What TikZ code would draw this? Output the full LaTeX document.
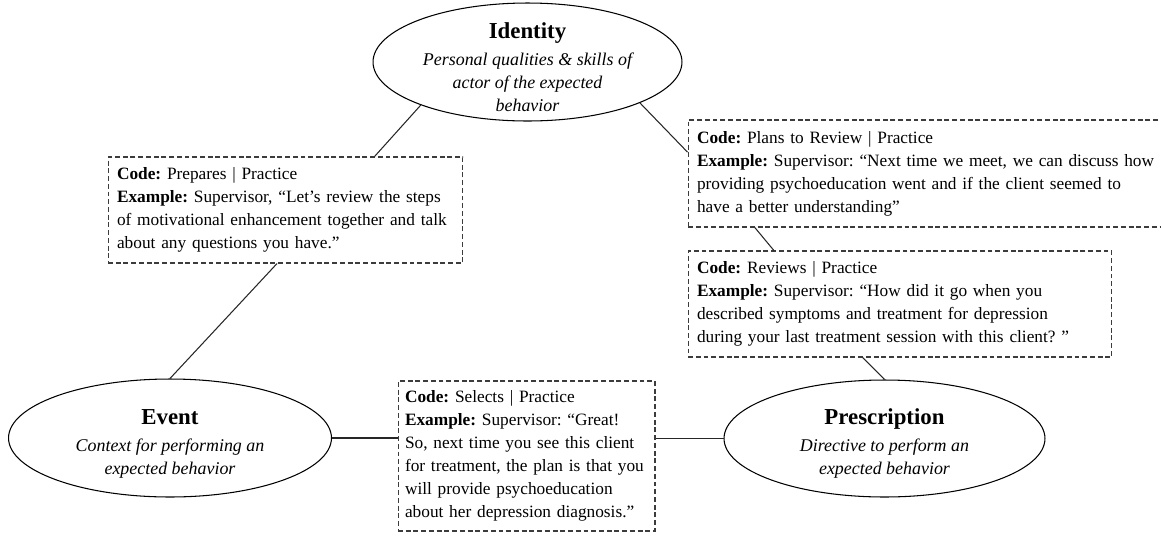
\documentclass[tikz,border=0pt]{standalone}
\usepackage{fontspec}
\setmainfont{Liberation Serif}
\usepackage{tikz}
\usetikzlibrary{shapes.geometric}
\definecolor{boxgray}{RGB}{60, 60, 60}
\frenchspacing

\tikzset{
  concept/.style={ellipse, draw, line width=0.6pt, inner xsep=0pt, inner ysep=-6pt,
    align=center, font=\fontsize{10.2}{13.2}\selectfont},
  codebox/.style={draw=boxgray, line width=0.6pt, dash pattern=on 2.8pt off 1.6pt,
    align=left, inner xsep=0.18cm, font=\fontsize{9.85}{13.1}\selectfont},
  link/.style={draw=black!85, line width=0.6pt}
}
\newcommand{\ctitle}[1]{{\fontsize{13}{15}\selectfont\bfseries\rule{0pt}{15pt}#1}}

\begin{document}
\begin{tikzpicture}[x=0.02cm, y=-0.02cm]
  \clip (0,0) rectangle (1161,535);

  % the three concepts
  \node[concept, minimum width=6.18cm, minimum height=2.36cm] (identity) at (527.5,62) {
    \ctitle{Identity}\\[2pt]
    \itshape Personal qualities \& skills of\\
    \itshape actor of the expected\\
    \itshape behavior
  };
  \node[concept, minimum width=6.46cm, minimum height=2.36cm] (event) at (170,438) {
    \ctitle{Event}\\[2pt]
    \itshape Context for performing an\\
    \itshape expected behavior
  };
  \node[concept, minimum width=6.42cm, minimum height=2.34cm] (prescription) at (884.5,438.5) {
    \ctitle{Prescription}\\[2pt]
    \itshape Directive to perform an\\
    \itshape expected behavior
  };

  % coded examples
  \node[codebox, text width=6.74cm, minimum height=2.12cm] (prep) at (285.5,210) {
    \textbf{Code:} Prepares | Practice\\
    \textbf{Example:} Supervisor, “Let’s review the steps\\
    of motivational enhancement together and talk\\
    about any questions you have.”
  };
  \node[codebox, text width=9.38cm, minimum height=2.14cm] (plans) at (931.5,173.5) {
    \textbf{Code:} Plans to Review | Practice\\
    \textbf{Example:} Supervisor: “Next time we meet, we can discuss how\\
    providing psychoeducation went and if the client seemed to\\
    have a better understanding”
  };
  \node[codebox, text width=8.12cm, minimum height=2.12cm] (reviews) at (900,304) {
    \textbf{Code:} Reviews | Practice\\
    \textbf{Example:} Supervisor: “How did it go when you\\
    described symptoms and treatment for depression\\
    during your last treatment session with this client? ”
  };
  \node[codebox, inner xsep=0.14cm, text width=4.86cm, minimum height=3.0cm] (selects) at (526.5,456) {
    \textbf{Code:} Selects | Practice\\
    \textbf{Example:} Supervisor: “Great!\\
    So, next time you see this client\\
    for treatment, the plan is that you\\
    will provide psychoeducation\\
    about her depression diagnosis.”
  };

  % links
  \draw[link] (identity.202) -- (prep.31);
  \draw[link] (prep.261) -- (event.north);
  \draw[link] (event.east) -- (event.east -| selects.west);
  \draw[link] (prescription.west -| selects.east) -- (prescription.west);
  \draw[link] (identity.340) -- (plans.175);
  \draw[link] (plans.197) -- (reviews.157);
  \draw[link] (reviews.235) -- (prescription.north);
\end{tikzpicture}
\end{document}
